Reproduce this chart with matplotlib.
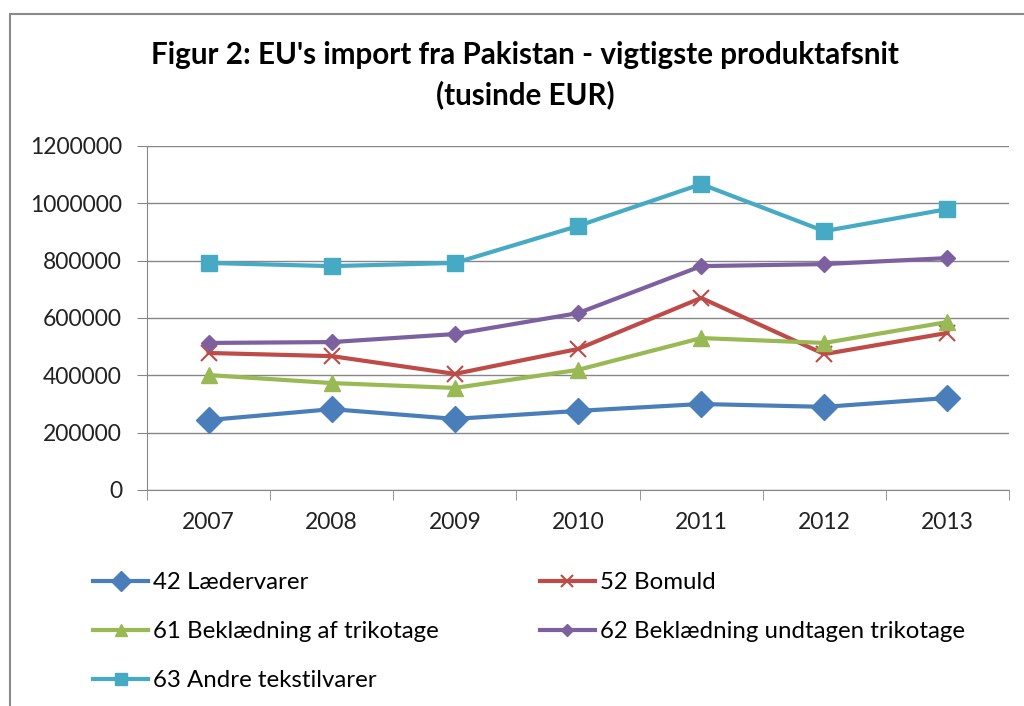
import matplotlib
matplotlib.use("Agg")
import matplotlib.pyplot as plt
from matplotlib.patches import Rectangle

plt.rcParams['font.family'] = ['Lato', 'DejaVu Sans']

years = ['2007', '2008', '2009', '2010', '2011', '2012', '2013']
laeder = [244000, 282000, 248000, 276000, 300000, 290000, 321000]
bomuld = [478000, 467000, 405000, 492000, 670000, 474000, 548000]
trikotage = [401000, 373000, 356000, 419000, 530000, 513000, 586000]
undtagen = [513000, 516000, 544000, 617000, 781000, 788000, 809000]
tekstil = [792000, 781000, 792000, 921000, 1067000, 903000, 980000]
yticks = [0, 200000, 400000, 600000, 800000, 1000000, 1200000]

fig = plt.figure(figsize=(10.24, 7.06), dpi=100)
ax = fig.add_axes([147/1024, 1-490/706, (1009-147)/1024, (490-146)/706])

x = range(len(years))
l1, = ax.plot(x, laeder, color='#4A7EBB', lw=3, marker='D', ms=13, label='42 Lædervarer')
l2, = ax.plot(x, bomuld, color='#BE4B48', lw=3, marker='x', ms=11, mew=1.5, label='52 Bomuld')
l3, = ax.plot(x, trikotage, color='#98B954', lw=3, marker='^', ms=11, label='61 Beklædning af trikotage')
l4, = ax.plot(x, undtagen, color='#7D60A0', lw=3, marker='D', ms=8, label='62 Beklædning undtagen trikotage')
l5, = ax.plot(x, tekstil, color='#46AAC5', lw=3, marker='s', ms=12, label='63 Andre tekstilvarer')

ax.set_xlim(-0.5, len(years) - 0.5)
ax.set_ylim(0, 1200000)
ax.set_yticks(yticks)
ax.set_yticklabels([str(v) for v in yticks])
ax.set_xticks(list(x))
ax.set_xticklabels(years)
ax.set_xticks([i - 0.5 for i in range(len(years) + 1)], minor=True)
ax.tick_params(axis='x', which='major', length=0, pad=16, labelsize=16.5, colors='#222222')
ax.tick_params(axis='x', which='minor', length=7, color='#868686')
ax.tick_params(axis='y', length=7, pad=11, labelsize=16.5, color='#868686', labelcolor='#222222')
ax.grid(axis='y', color='#868686', lw=1)
ax.set_axisbelow(True)
for s in ['top', 'right']:
    ax.spines[s].set_visible(False)
for s in ['left', 'bottom']:
    ax.spines[s].set_color('#868686')

fig.text(0.513, 1-75/706, "Figur 2: EU's import fra Pakistan - vigtigste produktafsnit\n(tusinde EUR)",
         ha='center', va='center', fontsize=21.3, fontweight='bold', linespacing=1.48)

fig.legend(handles=[l1, l3, l5, l2, l4], ncol=2, loc='upper left',
           bbox_to_anchor=(93/1024, 1-572/706), frameon=False, fontsize=17.3,
           handlelength=2.3, handletextpad=0.2, columnspacing=4.2, labelspacing=1.17,
           markerscale=0.75, borderpad=0, borderaxespad=0)

fig.patches.append(Rectangle((10/1024, -0.1), 1.2, 1.1-14/706, transform=fig.transFigure,
                             fill=False, edgecolor='#8a8a8a', lw=1.5))

fig.savefig('out.png', dpi=100)
